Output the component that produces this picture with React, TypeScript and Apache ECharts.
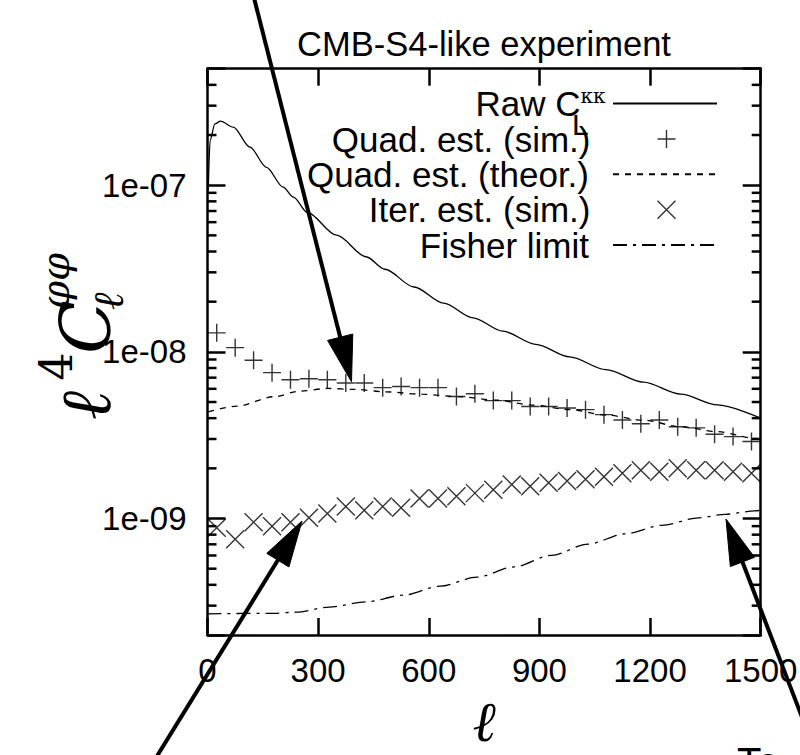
import React, { useEffect, useRef } from 'react';
import * as echarts from 'echarts';

// ---------- data ----------
const X_TICKS = [0, 300, 600, 900, 1200, 1500];
const Y_MIN = 2e-10;
const Y_MAX = 5e-7;
const MINOR_TICKS = [
  3e-10, 4e-10, 5e-10, 6e-10, 7e-10, 8e-10, 9e-10,
  2e-9, 3e-9, 4e-9, 5e-9, 6e-9, 7e-9, 8e-9, 9e-9,
  2e-8, 3e-8, 4e-8, 5e-8, 6e-8, 7e-8, 8e-8, 9e-8,
  2e-7, 3e-7, 4e-7,
];
const BIN_CENTERS = [
  25, 75, 125, 175, 225, 275, 325, 375, 425, 475,
  525, 575, 625, 675, 725, 775, 825, 875, 925, 975,
  1025, 1075, 1125, 1175, 1225, 1275, 1325, 1375, 1425, 1475,
];
const QUAD_SIM = [
  1.30e-8, 1.06e-8, 8.9e-9, 7.5e-9, 6.8e-9, 6.9e-9, 6.8e-9, 6.5e-9, 6.5e-9, 6.1e-9,
  6.2e-9, 6.1e-9, 6.1e-9, 5.4e-9, 5.6e-9, 5.1e-9, 5.1e-9, 4.7e-9, 4.7e-9, 4.6e-9,
  4.5e-9, 4.2e-9, 3.9e-9, 3.7e-9, 3.9e-9, 3.55e-9, 3.5e-9, 3.2e-9, 3.1e-9, 2.9e-9,
];
const ITER_SIM = [
  8.8e-10, 7.5e-10, 9.5e-10, 9.0e-10, 9.5e-10, 1.01e-9, 1.07e-9, 1.18e-9, 1.12e-9, 1.18e-9,
  1.16e-9, 1.32e-9, 1.32e-9, 1.36e-9, 1.42e-9, 1.49e-9, 1.60e-9, 1.56e-9, 1.64e-9, 1.68e-9,
  1.72e-9, 1.78e-9, 1.87e-9, 1.95e-9, 1.91e-9, 2.0e-9, 1.95e-9, 1.95e-9, 1.91e-9, 1.87e-9,
];
const RAW_L = [2, 7, 20, 35, 70, 115, 160, 205, 233, 270, 350, 430, 481, 560, 640, 720, 801, 890, 982,
  1080, 1182, 1283, 1383, 1500];
const RAW_V = [9.3e-8, 1.86e-7, 2.33e-7, 2.42e-7, 2.23e-7, 1.69e-7, 1.28e-7, 9.74e-8, 8.48e-8, 6.88e-8,
  5.01e-8, 3.72e-8, 3.13e-8, 2.45e-8, 1.96e-8, 1.60e-8, 1.33e-8, 1.11e-8, 9.33e-9,
  7.83e-9, 6.58e-9, 5.57e-9, 4.80e-9, 4.0e-9];
const THEOR_L = [2, 80, 180, 250, 325, 400, 481, 581, 682, 782, 882, 982, 1082, 1183, 1283, 1383, 1483, 1500];
const THEOR_V = [4.37e-9, 4.72e-9, 5.38e-9, 5.81e-9, 6.03e-9, 5.95e-9, 5.76e-9, 5.57e-9, 5.38e-9, 5.13e-9,
  4.79e-9, 4.51e-9, 4.17e-9, 3.89e-9, 3.55e-9, 3.32e-9, 3.03e-9, 2.99e-9];
const FISHER_L = [0, 180, 240, 330, 430, 531, 631, 731, 831, 932, 1032, 1132, 1232, 1332, 1403, 1483, 1500];
const FISHER_V = [2.68e-10, 2.70e-10, 2.74e-10, 2.94e-10, 3.16e-10, 3.47e-10, 3.93e-10, 4.45e-10, 5.12e-10,
  6.01e-10, 7.02e-10, 8.09e-10, 9.10e-10, 1.01e-9, 1.06e-9, 1.11e-9, 1.12e-9];

const NAMES = ['Raw', 'Quad. est. (sim.)', 'Quad. est. (theor.)', 'Iter. est. (sim.)', 'Fisher limit'];

// ---------- style ----------
const SANS = 'Liberation Sans, Arial, Helvetica, sans-serif';
const SERIF = 'DejaVu Serif, Liberation Serif, serif';
const BLACK = '#000';
const PLUS = 'path://M9,0 L9,18 M0,9 L18,9';
const CROSS = 'path://M0,0 L18,18 M18,0 L0,18';
const LEG_FONT = 35;
const TICK_FONT = 33;

const zip = (a: number[], b: number[]) => a.map((x, i) => [x, b[i]]);

function arrow(sx: number, sy: number, tx: number, ty: number, len = 46, half = 13) {
  const dx = tx - sx;
  const dy = ty - sy;
  const d = Math.hypot(dx, dy);
  const ux = dx / d;
  const uy = dy / d;
  const bx = tx - ux * len;
  const by = ty - uy * len;
  const px = -uy;
  const py = ux;
  return [
    { type: 'line', shape: { x1: sx, y1: sy, x2: bx + ux * 4, y2: by + uy * 4 }, style: { stroke: BLACK, lineWidth: 4 }, z: 100 },
    {
      type: 'polygon',
      shape: { points: [[tx, ty], [bx + px * half, by + py * half], [bx - px * half, by - py * half]] },
      style: { fill: BLACK, stroke: BLACK, lineWidth: 1 },
      z: 100,
    },
  ];
}

function txt(text: string, x: number, y: number, font: string, align = 'left', vAlign = 'middle', extra: any = {}) {
  return {
    type: 'text',
    x,
    y,
    style: {
      text,
      font,
      fill: BLACK,
      align,
      verticalAlign: vAlign,
      textAlign: align,
      textVerticalAlign: vAlign,
    },
    ...extra,
  };
}

function yLabFmt(v: number) {
  const e = Math.round(Math.log10(v));
  if (Math.abs(v / Math.pow(10, e) - 1) > 1e-6) return '';
  const s = String(Math.abs(e)).padStart(2, '0');
  return `1e${e < 0 ? '-' : '+'}${s}`;
}

const LEG_CENTERS = [103.5, 139, 174.3, 209.7, 245];

function legend(i: number, extra: any = {}) {
  return {
    data: [NAMES[i]],
    right: 82,
    top: LEG_CENTERS[i] - 17.5,
    orient: 'horizontal',
    align: 'right',
    itemWidth: 104,
    itemHeight: 18,
    padding: 0,
    selectedMode: false,
    textStyle: {
      fontFamily: SANS,
      fontSize: LEG_FONT,
      color: BLACK,
      lineHeight: 35,
      padding: [0, 19, 0, 0],
    },
    ...extra,
  };
}

export default function App() {
  const ref = useRef<HTMLDivElement>(null);

  useEffect(() => {
    if (!ref.current) return;
    const chart = echarts.init(ref.current, null, { renderer: 'svg' });

    const axisCommon = {
      axisLine: { show: true, onZero: false, lineStyle: { color: BLACK, width: 2.5 } },
      splitLine: { show: false },
    };

    const option: any = {
      animation: false,
      backgroundColor: '#fff',
      grid: { left: 207.5, right: 39.3, top: 68.7, bottom: 120, containLabel: false, outerBoundsMode: 'none' },
      xAxis: [
        {
          type: 'value',
          min: X_TICKS[0],
          max: X_TICKS[X_TICKS.length - 1],
          interval: X_TICKS[1] - X_TICKS[0],
          position: 'bottom',
          ...axisCommon,
          axisTick: { show: true, inside: true, length: 17, lineStyle: { color: BLACK, width: 2.5 } },
          axisLabel: {
            show: true,
            margin: 19,
            fontFamily: SANS,
            fontSize: TICK_FONT,
            color: BLACK,
            formatter: (v: number) => String(v),
          },
          name: '\u2113',
          nameLocation: 'middle',
          nameGap: 58,
          nameTextStyle: { fontFamily: SERIF, fontStyle: 'italic', fontSize: 56, color: BLACK },
        },
        {
          type: 'value',
          min: X_TICKS[0],
          max: X_TICKS[X_TICKS.length - 1],
          interval: X_TICKS[1] - X_TICKS[0],
          position: 'top',
          ...axisCommon,
          axisTick: { show: true, inside: true, length: 17, lineStyle: { color: BLACK, width: 2.5 } },
          axisLabel: { show: false },
        },
      ],
      yAxis: [
        {
          type: 'log',
          logBase: 10,
          min: Y_MIN,
          max: Y_MAX,
          position: 'left',
          ...axisCommon,
          axisTick: { show: true, inside: true, length: 18, lineStyle: { color: BLACK, width: 2.5 } },
          axisLabel: { show: true, margin: 21, fontFamily: SANS, fontSize: TICK_FONT, color: BLACK, formatter: yLabFmt },
        },
        {
          type: 'log',
          logBase: 10,
          min: Y_MIN,
          max: Y_MAX,
          position: 'right',
          ...axisCommon,
          axisTick: { show: true, inside: true, length: 18, lineStyle: { color: BLACK, width: 2.5 } },
          axisLabel: { show: false },
        },
      ],
      legend: [
        legend(0, {
          formatter: () => '{a|Raw C}{k|\u03ba\u03ba}',
          textStyle: {
            fontFamily: SANS,
            fontSize: LEG_FONT,
            color: BLACK,
            lineHeight: 35,
            padding: [0, 2.5, 0, 0],
            rich: {
              a: { fontFamily: SANS, fontSize: LEG_FONT, color: BLACK, lineHeight: 35 },
              k: { fontFamily: SERIF, fontSize: 20, color: BLACK, lineHeight: 12, verticalAlign: 'top' },
            },
          },
          itemStyle: { opacity: 0 },
        }),
        legend(1, { right: 122, itemStyle: { color: 'none', borderColor: BLACK, borderWidth: 1.4 } }),
        legend(2, { itemStyle: { opacity: 0 } }),
        legend(3, { right: 122, itemStyle: { color: 'none', borderColor: BLACK, borderWidth: 1.4 } }),
        legend(4, { itemStyle: { opacity: 0 } }),
      ],
      series: [
        {
          name: NAMES[0],
          type: 'line',
          data: zip(RAW_L, RAW_V),
          symbol: 'none',
          smooth: 0.3,
          smoothMonotone: 'x',
          lineStyle: { color: BLACK, width: 1.3, type: 'solid' },
          itemStyle: { color: BLACK },
          z: 3,
        },
        {
          name: NAMES[1],
          type: 'scatter',
          data: zip(BIN_CENTERS, QUAD_SIM),
          symbol: PLUS,
          symbolSize: 18,
          itemStyle: { color: 'none', borderColor: BLACK, borderWidth: 1.4 },
          z: 4,
        },
        {
          name: NAMES[2],
          type: 'line',
          data: zip(THEOR_L, THEOR_V),
          symbol: 'none',
          smooth: 0.3,
          smoothMonotone: 'x',
          lineStyle: { color: BLACK, width: 1.3, type: [6, 6] },
          itemStyle: { color: BLACK },
          z: 3,
        },
        {
          name: NAMES[3],
          type: 'scatter',
          data: zip(BIN_CENTERS, ITER_SIM),
          symbol: CROSS,
          symbolSize: 18,
          itemStyle: { color: 'none', borderColor: BLACK, borderWidth: 1.4 },
          z: 4,
        },
        {
          name: NAMES[4],
          type: 'line',
          data: zip(FISHER_L, FISHER_V),
          symbol: 'none',
          smooth: 0.3,
          smoothMonotone: 'x',
          lineStyle: { color: BLACK, width: 1.3, type: [14, 6, 3, 6] },
          itemStyle: { color: BLACK },
          z: 3,
        },
        {
          name: 'minor-ticks',
          type: 'custom',
          coordinateSystem: 'cartesian2d',
          silent: true,
          clip: false,
          data: MINOR_TICKS.map((v) => [X_TICKS[0], v]),
          renderItem: (_p: any, api: any) => {
            const v = api.value(1);
            const pl = api.coord([X_TICKS[0], v]);
            const pr = api.coord([X_TICKS[X_TICKS.length - 1], v]);
            return {
              type: 'group',
              children: [
                { type: 'line', shape: { x1: pl[0], y1: pl[1], x2: pl[0] + 9, y2: pl[1] }, style: { stroke: BLACK, lineWidth: 2.5 } },
                { type: 'line', shape: { x1: pr[0], y1: pr[1], x2: pr[0] - 9, y2: pr[1] }, style: { stroke: BLACK, lineWidth: 2.5 } },
              ],
            };
          },
          z: 5,
        },
      ],
      graphic: [
        txt('CMB-S4-like experiment', 484, 43.5, `34.5px ${SANS}`, 'center', 'middle'),
        txt('L', 572, 124, `30px ${SANS}`, 'left', 'middle'),
        {
          type: 'group',
          x: 110,
          y: 420,
          rotation: Math.PI / 2,
          children: [
            txt('\u2113', 0, -24.5, `italic 70px ${SERIF}`, 'left', 'middle'),
            txt('4', 39.5, -54, `44px ${SERIF}`, 'left', 'middle'),
            txt('C', 66, -24.5, `italic 70px ${SERIF}`, 'left', 'middle'),
            txt('\u03c6\u03c6', 111, -55, `italic 40px ${SERIF}`, 'left', 'middle'),
            txt('\u2113', 110, -2, `italic 42px ${SERIF}`, 'left', 'middle'),
          ],
        },
        txt('Te', 737, 742, `40px ${SANS}`, 'left', 'top'),
        ...arrow(252, -10, 351.5, 381.8),
        ...arrow(154.6, 760, 302, 521),
        ...arrow(818.4, 760, 726, 519),
      ],
    };

    chart.setOption(option);
    return () => chart.dispose();
  }, []);

  return (
    <div
      ref={ref}
      style={{ position: 'fixed', left: 0, top: 0, width: 800, height: 755, background: '#fff' }}
    />
  );
}
